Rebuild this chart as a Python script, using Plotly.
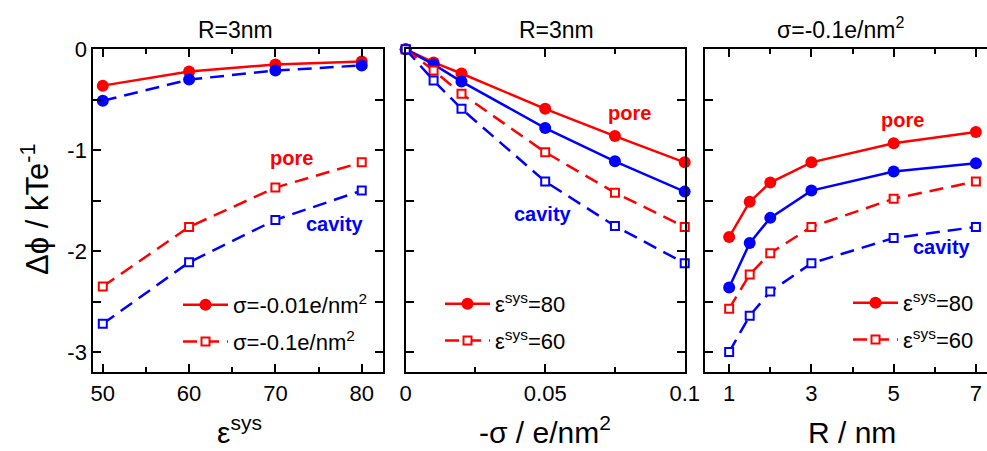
import plotly.graph_objects as go

RED = "#ff0000"
BLUE = "#0000ff"
FONT = "Liberation Sans, Arial, Helvetica, sans-serif"

# ---------------- data ----------------
# Panel 1: R = 3 nm, versus eps_sys
eps_sys = [50, 60, 70, 80]
p1_pore_s001 = [-0.36, -0.22, -0.15, -0.12]
p1_cav_s001 = [-0.51, -0.30, -0.21, -0.16]
p1_pore_s01 = [-2.35, -1.76, -1.37, -1.12]
p1_cav_s01 = [-2.72, -2.11, -1.69, -1.40]

# Panel 2: R = 3 nm, versus -sigma
neg_sigma = [0, 0.01, 0.02, 0.05, 0.075, 0.1]
p2_pore_e80 = [0, -0.13, -0.24, -0.59, -0.86, -1.12]
p2_cav_e80 = [0, -0.15, -0.32, -0.78, -1.11, -1.41]
p2_pore_e60 = [0, -0.21, -0.44, -1.02, -1.42, -1.76]
p2_cav_e60 = [0, -0.31, -0.59, -1.31, -1.75, -2.12]

# Panel 3: sigma = -0.1 e/nm^2, versus R
radius = [1, 1.5, 2, 3, 5, 7]
p3_pore_e80 = [-1.86, -1.51, -1.32, -1.12, -0.93, -0.82]
p3_cav_e80 = [-2.36, -1.92, -1.67, -1.40, -1.21, -1.13]
p3_pore_e60 = [-2.57, -2.23, -2.02, -1.76, -1.48, -1.31]
p3_cav_e60 = [-3.00, -2.64, -2.40, -2.12, -1.87, -1.76]

y_ticks = [0, -0.5, -1, -1.5, -2, -2.5, -3]
y_ticktext = ["0", "", "-1", "", "-2", "", "-3"]

leg1_names = ["σ=-0.01e/nm<sup>2</sup>", "σ=-0.1e/nm<sup>2</sup>"]
leg23_names = ["ε<sup>sys</sup>=80", "ε<sup>sys</sup>=60"]

W, H = 987, 451
DASH = "14px,8px"


def px_x(p):
    return p / W


def px_y(p):
    return 1 - p / H


fig = go.Figure()


def add(x, y, color, filled, dashed, xa, ya, name=None, legend=None):
    marker = dict(symbol="circle", size=12, color=color) if filled else \
        dict(symbol="square", size=8, color="white", line=dict(color=color, width=2))
    fig.add_trace(go.Scatter(
        x=x, y=y, mode="lines+markers", xaxis=xa, yaxis=ya, cliponaxis=False,
        line=dict(color=color, width=2.5, dash=DASH if dashed else "solid"),
        marker=marker, name=name or "", showlegend=name is not None,
        legend=legend, legendgroup=name or None, hoverinfo="skip"))


# panel 1
add(eps_sys, p1_pore_s001, RED, True, False, "x", "y", leg1_names[0], "legend")
add(eps_sys, p1_cav_s001, BLUE, True, True, "x", "y")
add(eps_sys, p1_pore_s01, RED, False, True, "x", "y", leg1_names[1], "legend")
add(eps_sys, p1_cav_s01, BLUE, False, True, "x", "y")
# panel 2
add(neg_sigma, p2_pore_e80, RED, True, False, "x2", "y2", leg23_names[0], "legend2")
add(neg_sigma, p2_cav_e80, BLUE, True, False, "x2", "y2")
add(neg_sigma, p2_pore_e60, RED, False, True, "x2", "y2", leg23_names[1], "legend2")
add(neg_sigma, p2_cav_e60, BLUE, False, True, "x2", "y2")
# panel 3
add(radius, p3_pore_e80, RED, True, False, "x3", "y3", leg23_names[0], "legend3")
add(radius, p3_cav_e80, BLUE, True, False, "x3", "y3")
add(radius, p3_pore_e60, RED, False, True, "x3", "y3", leg23_names[1], "legend3")
add(radius, p3_cav_e60, BLUE, False, True, "x3", "y3")

ax_common = dict(showline=True, linecolor="black", linewidth=2, ticks="inside",
                 ticklen=8, tickwidth=1.5, tickcolor="black", showgrid=False,
                 zeroline=False, automargin=False,
                 tickfont=dict(family=FONT, size=22, color="black"))

ydom = [px_y(372.3), px_y(49.3)]
xd1 = [px_x(93.3), px_x(383.3)]
xd2 = [px_x(405.7), px_x(684.7)]
xd3 = [px_x(705.3), 1.0]

minor = lambda vals: dict(tickvals=vals, ticks="inside", ticklen=5, tickwidth=1.5, tickcolor="black")

leg_common = dict(yanchor="top", bgcolor="rgba(0,0,0,0)",
                  font=dict(family=FONT, size=22), tracegroupgap=5, itemwidth=45)

fig.update_layout(
    width=W, height=H, margin=dict(l=0, r=0, t=0, b=0, autoexpand=False),
    paper_bgcolor="white", plot_bgcolor="white",
    font=dict(family=FONT, size=22, color="black"),
    xaxis=dict(ax_common, domain=xd1, range=[48.9, 82.5], tickvals=[50, 60, 70, 80],
               minor=minor([55, 65, 75]), mirror="ticks", anchor="y"),
    yaxis=dict(ax_common, domain=ydom, range=[-3.2, 0], tickvals=y_ticks,
               ticktext=y_ticktext, mirror="ticks", anchor="x"),
    xaxis2=dict(ax_common, domain=xd2, range=[0, 0.1], tickvals=[0, 0.05, 0.1],
                ticktext=["0", "0.05", "0.1"], minor=minor([0.025, 0.075]),
                mirror="ticks", anchor="y2"),
    yaxis2=dict(ax_common, domain=ydom, range=[-3.2, 0], tickvals=y_ticks,
                showticklabels=False, mirror="ticks", anchor="x2"),
    xaxis3=dict(ax_common, domain=xd3, range=[0.42, 7.27], tickvals=[1, 3, 5, 7],
                minor=minor([2, 4, 6]), mirror="ticks", anchor="y3"),
    yaxis3=dict(ax_common, domain=ydom, range=[-3.2, 0], tickvals=y_ticks,
                showticklabels=False, mirror=False, anchor="x3"),
    legend=dict(leg_common, x=px_x(178), y=px_y(284), xanchor="left"),
    legend2=dict(leg_common, x=px_x(440), y=px_y(283), xanchor="left"),
    legend3=dict(leg_common, x=px_x(848), y=px_y(282), xanchor="left"),
)

ann = []


def text(x, y, s, size=22, color="black", bold=False, angle=0, yanchor="middle"):
    ann.append(dict(x=px_x(x), y=px_y(y), xref="paper", yref="paper", text=(f"<b>{s}</b>" if bold else s),
                    showarrow=False, xanchor="center", yanchor=yanchor, textangle=angle,
                    font=dict(family=FONT, size=size, color=color)))


# panel titles
text(235, 30, "R=3nm", size=23)
text(556, 30, "R=3nm", size=23)
text(840, 28, "σ=-0.1e/nm<sup>2</sup>", size=23)
# axis titles
text(239, 451, "ε<sup>sys</sup>", size=30, yanchor="bottom")
text(545, 451, "-σ / e/nm<sup>2</sup>", size=30, yanchor="bottom")
text(852, 451, "R / nm", size=30, yanchor="bottom")
text(35, 210, "Δϕ / kTe<sup>-1</sup>", size=31, angle=-90)
# curve labels
text(291, 158, "pore", size=20, color=RED, bold=True)
text(335, 224, "cavity", size=20, color=BLUE, bold=True)
text(629, 113, "pore", size=20, color=RED, bold=True)
text(543, 214, "cavity", size=20, color=BLUE, bold=True)
text(902, 120, "pore", size=20, color=RED, bold=True)
text(942, 247, "cavity", size=20, color=BLUE, bold=True)

fig.update_layout(annotations=ann)
fig.write_html("out.html")
